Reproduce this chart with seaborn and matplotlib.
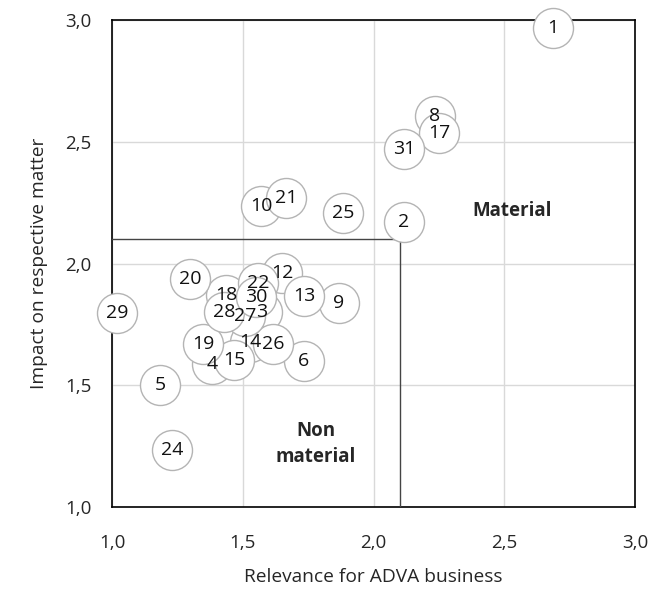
import pandas as pd
import matplotlib
matplotlib.use('Agg')
import matplotlib.pyplot as plt
import seaborn as sns

# materiality matrix values
topics = [1, 2, 3, 4, 5, 6, 8, 9, 10, 12, 13, 14, 15, 17, 18, 19, 20, 21,
          22, 24, 25, 26, 27, 28, 29, 30, 31]
relevance = [2.686, 2.117, 1.574, 1.382, 1.184, 1.734, 2.235, 1.868, 1.570,
             1.650, 1.734, 1.528, 1.467, 2.250, 1.436, 1.348, 1.298, 1.665,
             1.558, 1.229, 1.883, 1.616, 1.509, 1.428, 1.019, 1.551, 2.117]
impact = [2.967, 2.170, 1.800, 1.587, 1.500, 1.600, 2.606, 1.838, 2.236,
          1.961, 1.867, 1.678, 1.604, 2.536, 1.871, 1.669, 1.936, 2.269,
          1.920, 1.234, 2.207, 1.669, 1.784, 1.800, 1.797, 1.862, 2.470]
threshold = 2.1

df = pd.DataFrame({'topic': topics, 'relevance': relevance, 'impact': impact})

sns.set_style('white')
plt.rcParams['font.family'] = ['Open Sans', 'DejaVu Sans']

fig = plt.figure(figsize=(6.57, 5.89), dpi=100)
ax = fig.add_axes([0.1705, 0.139, 0.796, 0.827])

sns.scatterplot(x='relevance', y='impact', data=df, s=830, color='white',
                edgecolor='#b4b4b4', linewidth=1, zorder=4, clip_on=False, ax=ax)
for _, r in df.iterrows():
    ax.text(r.relevance, r.impact, str(int(r.topic)), ha='center', va='center',
            fontsize=14, color='#111111', zorder=5)

# threshold lines
ax.plot([1.0, threshold], [threshold, threshold], color='#444444', lw=1, zorder=3)
ax.plot([threshold, threshold], [1.0, threshold], color='#444444', lw=1, zorder=3)

ax.text(2.53, 2.215, 'Material', ha='center', va='center', fontsize=13.5,
        fontweight='bold', zorder=5)
ax.text(1.78, 1.26, 'Non\nmaterial', ha='center', va='center', fontsize=13.5,
        fontweight='bold', linespacing=1.4, zorder=5)

ax.set_xlim(1.0, 3.0)
ax.set_ylim(1.0, 3.0)
ticks = [1.0, 1.5, 2.0, 2.5, 3.0]
ax.set_xticks(ticks)
ax.set_yticks(ticks)
ax.set_xticklabels([f'{t:.1f}'.replace('.', ',') for t in ticks], fontsize=13.5)
ax.set_yticklabels([f'{t:.1f}'.replace('.', ',') for t in ticks], fontsize=13.5)
ax.tick_params(axis='x', length=0, pad=19)
ax.tick_params(axis='y', length=0, pad=15)
ax.grid(True, color='#d9d9d9', lw=1)
ax.set_axisbelow(True)
for sp in ax.spines.values():
    sp.set_color('black')
    sp.set_linewidth(1.2)

ax.set_xlabel('Relevance for ADVA business', fontsize=13.8, labelpad=12)
ax.set_ylabel('Impact on respective matter', fontsize=13.8, labelpad=12)

fig.savefig('out.png', dpi=100)
